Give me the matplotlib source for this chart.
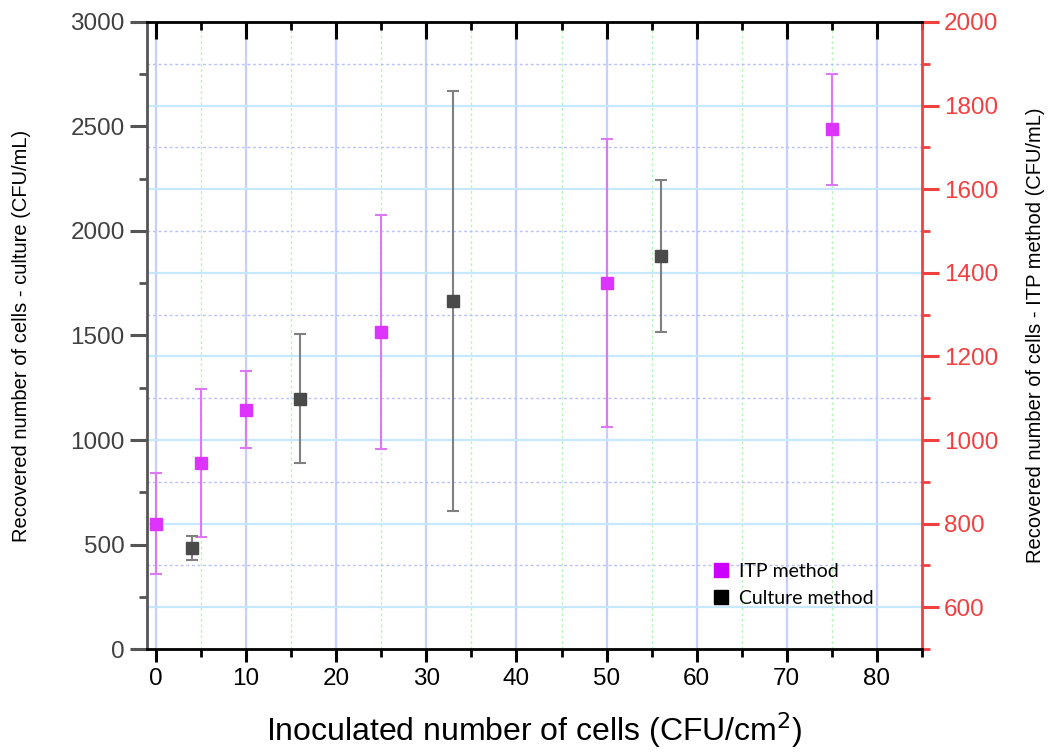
import matplotlib
matplotlib.use("Agg")
import matplotlib.pyplot as plt
from matplotlib.lines import Line2D
from matplotlib.ticker import MultipleLocator

# ITP method (right axis)
itp_x = [0, 5, 10, 25, 50, 75]
itp_y = [800, 944, 1072, 1258, 1376, 1743]
itp_err = [120, 177, 92, 280, 344, 133]

# culture method (left axis)
cult_x = [4, 16, 33, 56]
cult_y = [483, 1198, 1664, 1880]
cult_err = [59, 309, 1004, 364]

x_ticks = [0, 10, 20, 30, 40, 50, 60, 70, 80]
left_ticks = [0, 500, 1000, 1500, 2000, 2500, 3000]
right_ticks = [600, 800, 1000, 1200, 1400, 1600, 1800, 2000]

plt.rcParams['font.family'] = ['Liberation Sans', 'DejaVu Sans']

fig = plt.figure(figsize=(10.49, 7.53), dpi=100)
ax = fig.add_axes([0.1401, 0.1381, 0.7388, 0.8327])
ax2 = ax.twinx()

# left axes sits on top so the culture bars are not hidden by the ITP axes
ax.set_zorder(2)
ax2.set_zorder(1)
ax.patch.set_visible(False)
ax2.patch.set_visible(True)
ax2.patch.set_facecolor('white')

ax.set_xlim(-1, 85)
ax.set_ylim(0, 3000)
ax2.set_ylim(500, 2000)

ax.set_xticks(x_ticks)
ax.xaxis.set_minor_locator(MultipleLocator(5))
ax.set_yticks(left_ticks)
ax.yaxis.set_minor_locator(MultipleLocator(250))
ax2.set_yticks(right_ticks)
ax2.yaxis.set_minor_locator(MultipleLocator(100))

# the twin's x axis carries the vertical grid and the inward top ticks
ax2.xaxis.set_visible(True)
ax2.tick_params(axis='x', which='both', bottom=False, top=True,
                labelbottom=False, labeltop=False, direction='in',
                color='black')
ax2.tick_params(axis='x', which='major', length=12, width=2.2)
ax2.tick_params(axis='x', which='minor', length=6, width=2)

# grid lines (all on the lower axes)
ax2.set_axisbelow(True)
ax2.xaxis.grid(True, which='major', color='#c8cfff', lw=1.6, ls='-')
ax2.xaxis.grid(True, which='minor', color='#b8f5b8', lw=1.0, ls=(0, (2, 2)))
ax2.yaxis.grid(True, which='major', color='#c6e9ff', lw=1.6, ls='-')
ax2.yaxis.grid(True, which='minor', color='#b8bfff', lw=1.0, ls=(0, (2, 2)))

ax2.errorbar(itp_x, itp_y, yerr=itp_err, fmt='none', ecolor='#dd77f5',
             elinewidth=1.5, capsize=4.3, capthick=1.5, zorder=3)
ax2.plot(itp_x, itp_y, 's', color='#dd33ff', markersize=9.3, mec='#dd33ff',
         zorder=4, ls='none')

ax.errorbar(cult_x, cult_y, yerr=cult_err, fmt='none', ecolor='#808080',
            elinewidth=1.5, capsize=4.3, capthick=1.5, zorder=3)
ax.plot(cult_x, cult_y, 's', color='#4a4a4a', markersize=9.3, mec='#4a4a4a',
        zorder=4, ls='none')

# spines
for s in ['top', 'bottom']:
    ax.spines[s].set_color('black')
    ax.spines[s].set_linewidth(2)
ax.spines['left'].set_color('#555555')
ax.spines['left'].set_linewidth(2)
ax.spines['right'].set_visible(False)
for s in ['top', 'bottom', 'left']:
    ax2.spines[s].set_visible(False)
ax2.spines['right'].set_color('#f04040')
ax2.spines['right'].set_linewidth(2)

ax.tick_params(axis='x', which='major', direction='out', length=9, width=2.2,
               color='black', labelsize=17.5, labelcolor='black', pad=5,
               top=False)
ax.tick_params(axis='x', which='minor', direction='out', length=6, width=2,
               color='black', top=False)
ax.tick_params(axis='y', which='major', direction='out', length=12, width=2.2,
               color='#555555', labelsize=17.5, labelcolor='#404040', pad=4)
ax.tick_params(axis='y', which='minor', direction='out', length=6, width=2,
               color='#555555')
ax2.tick_params(axis='y', which='major', direction='out', length=12, width=2.2,
                color='#f04040', labelsize=17.5, labelcolor='#f04040', pad=4)
ax2.tick_params(axis='y', which='minor', direction='out', length=6, width=2,
                color='#f04040')

ax.set_xlabel('Inoculated number of cells (CFU/cm$^2$)', fontsize=23,
              labelpad=14)
ax.set_ylabel('Recovered number of cells - culture (CFU/mL)', fontsize=14.5,
              labelpad=28)
ax2.set_ylabel('Recovered number of cells - ITP method (CFU/mL)', fontsize=14.5,
               labelpad=20)

handles = [
    Line2D([], [], marker='s', ls='none', color='#cc00ff', markersize=10.5),
    Line2D([], [], marker='s', ls='none', color='black', markersize=10.5),
]
ax.legend(handles, ['ITP method', 'Culture method'], loc='lower left',
          bbox_to_anchor=(0.716, 0.055), frameon=False,
          prop={'family': 'Lato', 'size': 14}, handletextpad=0.3,
          labelspacing=0.5, borderaxespad=0, handlelength=1.2)

fig.savefig('out.png', dpi=100)
